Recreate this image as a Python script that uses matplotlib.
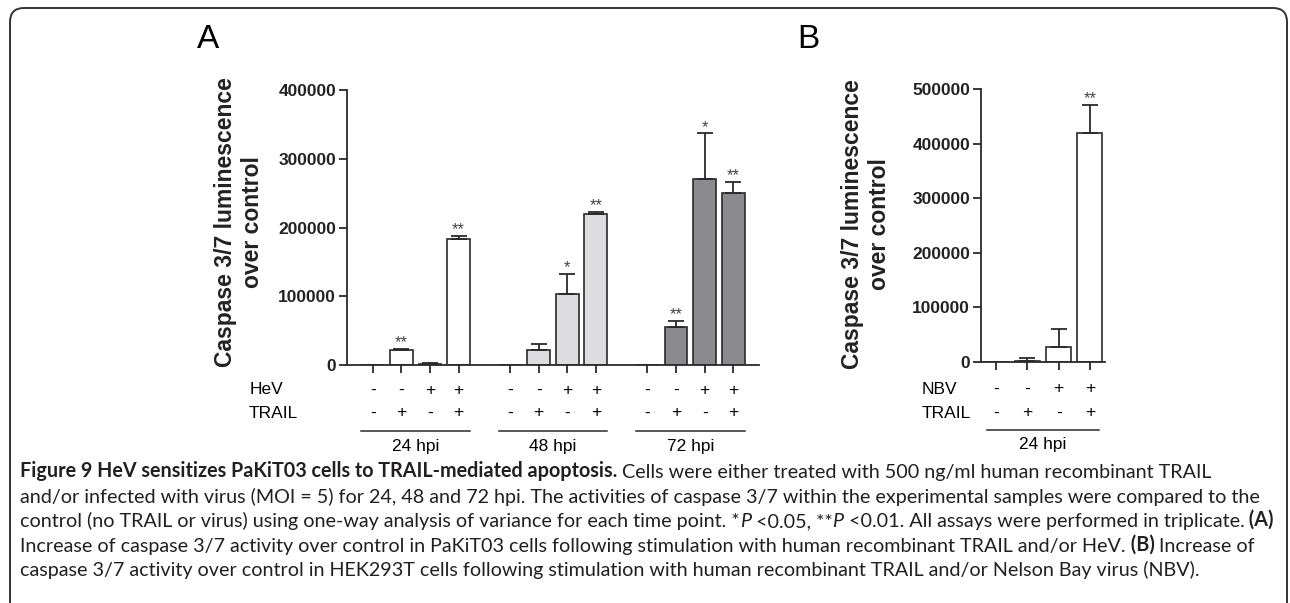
import numpy as np
import matplotlib.pyplot as plt
from matplotlib.patches import FancyBboxPatch
from matplotlib.text import Annotation
from matplotlib.transforms import IdentityTransform, blended_transform_factory

plt.rcParams['font.family'] = ['Liberation Sans', 'DejaVu Sans']

# ---- panel A: PaKiT03, HeV and/or TRAIL ----
hpi_groups = ['24 hpi', '48 hpi', '72 hpi']
hev = ['-', '-', '+', '+']
trail = ['-', '+', '-', '+']
a_means = [
    [0, 22000, 1500, 183000],
    [0, 22500, 104000, 220000],
    [0, 56000, 271000, 250000],
]
a_errs = [
    [0, 2000, 1500, 4500],
    [0, 8000, 29000, 2500],
    [0, 8000, 66000, 16000],
]
a_stars = [
    ['', '**', '', '**'],
    ['', '', '*', '**'],
    ['', '**', '*', '**'],
]
a_ticks = [0, 100000, 200000, 300000, 400000]

# ---- panel B: HEK293T, NBV and/or TRAIL ----
nbv = ['-', '-', '+', '+']
b_means = [0, 2000, 27000, 419000]
b_errs = [0, 6000, 33000, 52000]
b_stars = ['', '', '', '**']
b_ticks = [0, 100000, 200000, 300000, 400000, 500000]

a_colors = ['white', '#dddddf', '#8b8b8f']
ylab = 'Caspase 3/7 luminescence\nover control'

W, H = 1290, 603
EDGE = '#2a2a2a'


def fx(px):
    return px / W


def fy(py):
    return 1 - py / H


fig = plt.figure(figsize=(W / 100, H / 100), dpi=100)

# rounded frame around the figure
frame = FancyBboxPatch((10, -40), 1277, 635, boxstyle='round,pad=0,rounding_size=14',
                       transform=IdentityTransform(), fill=False, edgecolor='#333333', lw=1.4)
fig.add_artist(frame)


def style_axes(ax, ticks):
    for s in ['top', 'right']:
        ax.spines[s].set_visible(False)
    for s in ['left', 'bottom']:
        ax.spines[s].set_color(EDGE)
        ax.spines[s].set_linewidth(1.3)
    ax.set_yticks(ticks)
    ax.set_yticklabels([str(t) for t in ticks], fontweight='bold', fontsize=12.5, color='#222222')
    ax.tick_params(axis='both', direction='out', length=5.8, width=1.3, color=EDGE, pad=2)
    ax.set_ylim(0, ticks[-1])


def draw_bars(ax, pos, means, errs, stars, color):
    ax.bar(pos, means, width=0.8, color=color, edgecolor=EDGE, linewidth=1.2, zorder=2)
    for x, m, e, s in zip(pos, means, errs, stars):
        if e > 0:
            ax.errorbar([x], [m], yerr=[[0], [e]], fmt='none', ecolor=EDGE,
                        elinewidth=1.3, capsize=5.5, capthick=1.3, zorder=3)
        if s:
            ax.annotate(s, (x, m + e), xytext=(0, -1), textcoords='offset points',
                        ha='center', va='bottom', fontsize=12, color='#444444')


# ---- panel A ----
axA = fig.add_axes([fx(347), fy(365), fx(759 - 347), (365 - 90) / H])
style_axes(axA, a_ticks)
transA = blended_transform_factory(axA.transData, fig.transFigure)
all_pos = []
for g, name in enumerate(hpi_groups):
    pos = g * 4.8 + np.arange(4)
    all_pos.extend(pos)
    draw_bars(axA, pos, a_means[g], a_errs[g], a_stars[g], a_colors[g])
    for x, h, t in zip(pos, hev, trail):
        axA.text(x, fy(390), h, transform=transA, ha='center', va='center', fontsize=12.5)
        axA.text(x, fy(413), t, transform=transA, ha='center', va='center', fontsize=12.5)
    axA.plot([pos[0] - 0.4, pos[-1] + 0.4], [fy(431), fy(431)], transform=transA,
             color=EDGE, lw=1.1, clip_on=False)
    axA.text(pos.mean(), fy(446), name, transform=transA, ha='center', va='center', fontsize=12.5)
axA.set_xticks(all_pos)
axA.set_xticklabels([])
axA.set_xlim(-0.9, 13.5)
fig.text(fx(250), fy(390), 'HeV', ha='left', va='center', fontsize=12.5)
fig.text(fx(249), fy(413), 'TRAIL', ha='left', va='center', fontsize=12.5)
fig.text(fx(239), fy(222), ylab, rotation=90, ha='center', va='center',
         fontsize=16.5, fontweight='bold', color='#222222')
fig.text(fx(208), fy(40), 'A', ha='center', va='center', fontsize=24)

# ---- panel B ----
axB = fig.add_axes([fx(981), fy(362), fx(1105 - 981), (362 - 89) / H])
style_axes(axB, b_ticks)
transB = blended_transform_factory(axB.transData, fig.transFigure)
posB = np.arange(4)
draw_bars(axB, posB, b_means, b_errs, b_stars, 'white')
for x, h, t in zip(posB, nbv, trail):
    axB.text(x, fy(389), h, transform=transB, ha='center', va='center', fontsize=12.5)
    axB.text(x, fy(413), t, transform=transB, ha='center', va='center', fontsize=12.5)
axB.plot([-0.3, 3.3], [fy(430), fy(430)], transform=transB, color=EDGE, lw=1.1, clip_on=False)
axB.text(1.5, fy(445), '24 hpi', transform=transB, ha='center', va='center', fontsize=12.5)
axB.set_xticks(posB)
axB.set_xticklabels([])
axB.set_xlim(-0.48, 3.48)
fig.text(fx(922), fy(389), 'NBV', ha='left', va='center', fontsize=12.5)
fig.text(fx(922), fy(413), 'TRAIL', ha='left', va='center', fontsize=12.5)
fig.text(fx(866), fy(224), ylab, rotation=90, ha='center', va='center',
         fontsize=16.5, fontweight='bold', color='#222222')
fig.text(fx(808), fy(40), 'B', ha='center', va='center', fontsize=24)

# ---- caption ----
caption = [
    [('Figure 9 HeV sensitizes PaKiT03 cells to TRAIL-mediated apoptosis.', 'b'),
     (' Cells were either treated with 500 ng/ml human recombinant TRAIL', 'n')],
    [('and/or infected with virus (MOI = 5) for 24, 48 and 72 hpi. The activities of caspase 3/7 '
      'within the experimental samples were compared to the', 'n')],
    [('control (no TRAIL or virus) using one-way analysis of variance for each time point. *', 'n'),
     ('P', 'i'), (' <0.05, **', 'n'), ('P', 'i'),
     (' <0.01. All assays were performed in triplicate.', 'n'), (' (A)', 'b')],
    [('Increase of caspase 3/7 activity over control in PaKiT03 cells following stimulation with '
      'human recombinant TRAIL and/or HeV.', 'n'), (' (B)', 'b'), (' Increase of', 'n')],
    [('caspase 3/7 activity over control in HEK293T cells following stimulation with human '
      'recombinant TRAIL and/or Nelson Bay virus (NBV).', 'n')],
]
cap_y = [471, 496, 520, 545, 569]
CAP_FONT = 'Lato'
CAP_SIZE = 14.2

for line, yc in zip(caption, cap_y):
    prev = None
    for txt, st in line:
        kw = dict(fontsize=CAP_SIZE, family=[CAP_FONT, 'DejaVu Sans'], color='#231f20',
                  fontweight='bold' if st == 'b' else 'normal',
                  fontstyle='italic' if st == 'i' else 'normal')
        if prev is None:
            prev = fig.text(fx(20), fy(yc + 10), txt, ha='left', va='bottom', **kw)
        else:
            a = Annotation(txt, xy=(1, 0), xycoords=prev, ha='left', va='bottom', **kw)
            fig.add_artist(a)
            prev = a

fig.savefig('out.png', dpi=100)
